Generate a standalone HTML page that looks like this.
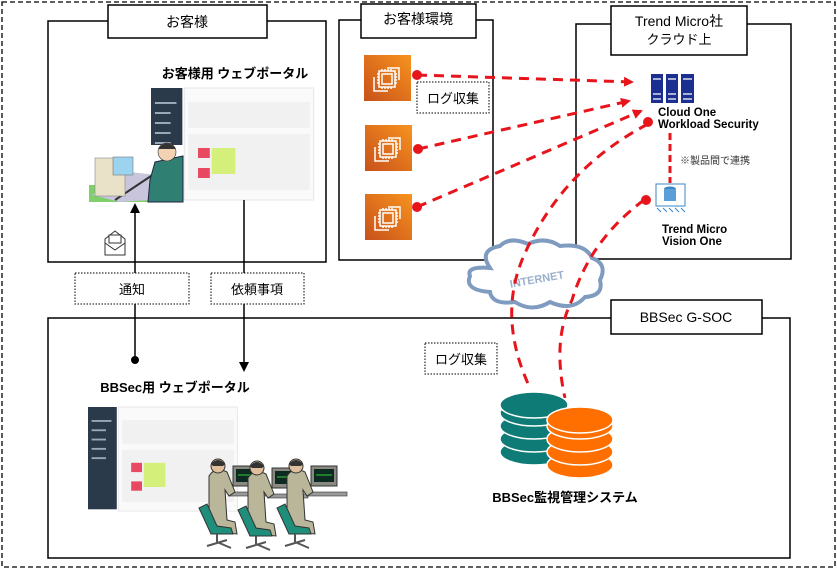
<!DOCTYPE html>
<html><head><meta charset="utf-8"><style>
html,body{margin:0;padding:0;background:#fff}
svg{display:block}
text{font-family:"Liberation Sans","Noto Sans CJK JP",sans-serif}
</style></head><body>
<svg width="837" height="569" viewBox="0 0 837 569" xmlns="http://www.w3.org/2000/svg">
<defs>
<linearGradient id="ec2" x1="0" y1="1" x2="1" y2="0"><stop offset="0" stop-color="#c8511b"/><stop offset="1" stop-color="#f7931e"/></linearGradient>
<marker id="ra" markerWidth="10" markerHeight="10" refX="8" refY="5" orient="auto" markerUnits="userSpaceOnUse"><path d="M0,0 L10,5 L0,10 z" fill="#e8141c"/></marker>
<g id="chip"><rect width="47" height="46" fill="url(#ec2)"/>
<g fill="none" stroke="#fff" stroke-width="1.5"><path d="M10,22 v14 h14"/><path d="M23,13 h12 v12"/><rect x="15" y="16" width="16" height="16"/><rect x="18" y="19" width="10" height="10"/>
<path d="M18,14v2M21,14v2M24,14v2M27,14v2M18,32v2M21,32v2M24,32v2M27,32v2M13,19h2M13,22h2M13,25h2M13,28h2M31,19h2M31,22h2M31,25h2M31,28h2"/></g></g>
<g id="shot">
<rect x="0" y="0" width="32" height="110" fill="#2b3a4a"/>
<rect x="34" y="0" width="132" height="112" fill="#fafafa" stroke="#e6e6e6"/>
<rect x="38" y="14" width="124" height="26" fill="#f1f1f1"/>
<rect x="38" y="46" width="124" height="56" fill="#f1f1f1"/>
<rect x="48" y="60" width="12" height="10" fill="#e84860"/><rect x="62" y="60" width="24" height="26" fill="#d4ef7a"/><rect x="48" y="80" width="12" height="10" fill="#e84860"/>
<g fill="#9aa8b8"><rect x="4" y="14" width="22" height="2"/><rect x="4" y="24" width="16" height="2"/><rect x="4" y="34" width="16" height="2"/><rect x="4" y="44" width="16" height="2"/><rect x="4" y="54" width="16" height="2"/></g>
</g>
<g id="op">
<rect x="28" y="4" width="26" height="20" fill="#8a8a80" stroke="#333"/><rect x="31" y="7" width="20" height="13" fill="#0d2a22"/><path d="M33,13 h16" stroke="#3c3"/>
<rect x="24" y="30" width="40" height="4" fill="#999" stroke="#333" stroke-width="0.6"/>
<path d="M4,14 Q10,4 22,10 L30,30 L24,34 L20,28 L22,58 L30,60 L32,72 L10,70 L4,48 z" fill="#b9b69a" stroke="#333"/>
<circle cx="13" cy="4" r="7" fill="#e0c09c" stroke="#333"/><path d="M6,2 Q13,-6 20,2 L18,4 L8,4z" fill="#333"/>
<path d="M-6,46 L6,72 L28,72 L26,66 L12,64 L2,42 z" fill="#1f8f7c" stroke="#333"/>
<path d="M12,72 L12,80 M2,84 L22,78 M12,80 L26,86" stroke="#555" stroke-width="2"/>
</g>
</defs>
<rect x="2" y="2" width="833" height="565" fill="none" stroke="#000" stroke-width="1.3" stroke-dasharray="5,3"/>

<rect x="48" y="21" width="278" height="241" fill="#fff" stroke="#000" stroke-width="1.5"/>
<rect x="108" y="5" width="159" height="33" fill="#fff" stroke="#000" stroke-width="1.5"/>
<text x="187" y="27" font-size="14" text-anchor="middle">お客様</text>
<text x="235" y="78" font-size="13" font-weight="bold" text-anchor="middle">お客様用 ウェブポータル</text>
<use href="#shot" transform="translate(151,88) scale(0.98,1)"/>
<rect x="89" y="145" width="94" height="57" fill="#fff"/>
<rect x="89" y="185" width="94" height="17" fill="#7fd06a"/>
<path d="M92,195 L130,172 L183,178 L183,198 L120,202 z" fill="#c9c5dc"/>
<path d="M115,200 L160,170" stroke="#333" stroke-width="2"/>
<rect x="95" y="158" width="30" height="38" fill="#e9e1c8" stroke="#888" stroke-width="0.6"/>
<rect x="113" y="157" width="20" height="18" fill="#9cd4ef" stroke="#777" stroke-width="0.6"/>
<path d="M155,162 L183,156 L183,202 L148,202 L150,180 z" fill="#2f7f72" stroke="#224"/>
<circle cx="167" cy="152" r="9" fill="#f3d2b4" stroke="#333" stroke-width="0.6"/><path d="M158,149 Q167,137 176,149 z" fill="#333"/>
<path d="M105,239 l10,-8 l10,8 v16 h-20 z" fill="#fff" stroke="#333"/><rect x="109" y="235" width="12" height="8" fill="#fff" stroke="#333"/><path d="M105,243 l10,7 l10,-7" fill="none" stroke="#333"/>

<rect x="339" y="20" width="154" height="240" fill="#fff" stroke="#000" stroke-width="1.5"/>
<rect x="361" y="4" width="115" height="34" fill="#fff" stroke="#000" stroke-width="1.5"/>
<text x="418" y="24" font-size="14" text-anchor="middle">お客様環境</text>
<use href="#chip" x="364" y="55"/><use href="#chip" x="365" y="125"/><use href="#chip" x="365" y="194"/>
<rect x="417" y="82" width="72" height="31" fill="#fff" stroke="#000" stroke-dasharray="1.5,1.5"/>
<text x="453" y="103" font-size="13" text-anchor="middle">ログ収集</text>

<rect x="576" y="24" width="215" height="235" fill="#fff" stroke="#000" stroke-width="1.5"/>
<rect x="611" y="6" width="136" height="49" fill="#fff" stroke="#000" stroke-width="1.5"/>
<text x="679" y="26" font-size="14" text-anchor="middle">Trend Micro社</text>
<text x="679" y="44" font-size="13" text-anchor="middle">クラウド上</text>
<g fill="#1a2f8f"><rect x="651" y="74" width="12" height="29"/><rect x="666" y="74" width="12" height="29"/><rect x="681" y="74" width="13" height="29"/></g>
<g stroke="#fff" stroke-width="1.2"><path d="M653,79h8M653,94h8M653,99h8M668,79h8M668,94h8M668,99h8M683,79h9M683,94h9M683,99h9"/></g>
<text x="658" y="116" font-size="11.5" font-weight="bold">Cloud One</text>
<text x="658" y="128" font-size="11.5" font-weight="bold">Workload Security</text>
<line x1="670" y1="133" x2="670" y2="183" stroke="#e8141c" stroke-width="3" stroke-dasharray="7,4"/>
<text x="680" y="164" font-size="10" fill="#333">※製品間で連携</text>
<rect x="656" y="184" width="29" height="22" fill="#fff" stroke="#3b86c6"/>
<ellipse cx="670" cy="189" rx="6" ry="2.5" fill="#3b86c6"/><rect x="664" y="189" width="12" height="12" fill="#5a9fd8"/>
<path d="M657,208 l4,4 M663,208 l4,4 M669,208 l4,4 M675,208 l4,4 M681,208 l4,4" stroke="#3b86c6"/>
<text x="662" y="233" font-size="11.5" font-weight="bold">Trend Micro</text>
<text x="662" y="245" font-size="11.5" font-weight="bold">Vision One</text>

<rect x="75" y="273" width="114" height="31" fill="#fff" stroke="#000" stroke-dasharray="1.5,1.5"/>
<text x="132" y="294" font-size="13" text-anchor="middle">通知</text>
<rect x="211" y="273" width="93" height="31" fill="#fff" stroke="#000" stroke-dasharray="1.5,1.5"/>
<text x="257" y="294" font-size="13" text-anchor="middle">依頼事項</text>

<rect x="48" y="318" width="742" height="240" fill="none" stroke="#000" stroke-width="1.5"/>
<rect x="611" y="300" width="151" height="34" fill="#fff" stroke="#000" stroke-width="1.5"/>
<text x="686" y="322" font-size="14" text-anchor="middle">BBSec G-SOC</text>

<line x1="135" y1="205" x2="135" y2="273" stroke="#000" stroke-width="1.5"/>
<line x1="135" y1="304" x2="135" y2="360" stroke="#000" stroke-width="1.5"/>
<path d="M130,213 L135,203 L140,213 z"/>
<circle cx="135" cy="360" r="4"/>
<line x1="244" y1="200" x2="244" y2="273" stroke="#000" stroke-width="1.5"/>
<line x1="244" y1="304" x2="244" y2="362" stroke="#000" stroke-width="1.5"/>
<path d="M239,362 L244,372 L249,362 z"/>

<text x="175" y="392" font-size="13" font-weight="bold" text-anchor="middle">BBSec用 ウェブポータル</text>
<use href="#shot" transform="translate(88,407) scale(0.9,0.93)"/>
<use href="#op" x="205" y="462"/>
<use href="#op" x="244" y="464"/>
<use href="#op" x="283" y="462"/>

<rect x="425" y="343" width="72" height="31" fill="#fff" stroke="#000" stroke-dasharray="1.5,1.5"/>
<text x="461" y="364" font-size="13" text-anchor="middle">ログ収集</text>

<path d="M490,268 Q478,250 500,246 Q510,236 528,244 Q545,236 560,246 Q585,243 592,258 Q608,264 600,280 Q604,296 585,297 Q572,312 550,302 Q532,313 515,302 Q492,305 490,292 Q464,290 470,276 Q466,266 490,268 z" fill="#fff" stroke="#7f9bc0" stroke-width="4"/>
<text x="537" y="283" font-size="11" font-weight="bold" fill="#9aafcc" text-anchor="middle" transform="rotate(-10 537 280)">INTERNET</text>

<g fill="none" stroke="#e8141c" stroke-width="3" stroke-dasharray="10,7">
<path d="M417,75 L632,82" marker-end="url(#ra)"/>
<path d="M418,149 L629,101" marker-end="url(#ra)"/>
<path d="M417,207 L641,111" marker-end="url(#ra)"/>
<path d="M648,124 Q560,170 522,260 Q498,320 530,388"/>
<path d="M644,200 Q590,240 572,300 Q552,340 565,398"/>
</g>
<g fill="#e8141c"><circle cx="417" cy="75" r="5"/><circle cx="418" cy="149" r="5"/><circle cx="417" cy="207" r="5"/><circle cx="648" cy="122" r="5"/><circle cx="646" cy="200" r="5"/></g>

<g stroke="#fff" stroke-width="1.5" fill="#0f7b77">
<ellipse cx="534" cy="452" rx="34" ry="13"/><ellipse cx="534" cy="439" rx="34" ry="13"/><ellipse cx="534" cy="426" rx="34" ry="13"/><ellipse cx="534" cy="413" rx="34" ry="13"/><ellipse cx="534" cy="405" rx="34" ry="13"/>
</g>
<g stroke="#fff" stroke-width="1.5" fill="#ff6f00">
<ellipse cx="580" cy="465" rx="33" ry="13"/><ellipse cx="580" cy="452" rx="33" ry="13"/><ellipse cx="580" cy="439" rx="33" ry="13"/><ellipse cx="580" cy="426" rx="33" ry="13"/><ellipse cx="580" cy="420" rx="33" ry="13"/>
</g>
<text x="565" y="502" font-size="13" font-weight="bold" text-anchor="middle">BBSec監視管理システム</text>
</svg>
</body></html>
